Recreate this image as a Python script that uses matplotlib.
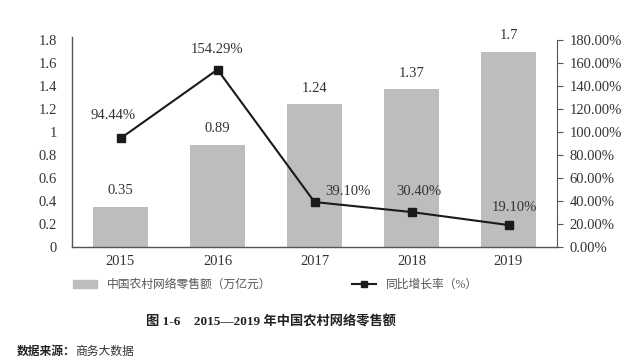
import matplotlib.pyplot as plt
from matplotlib.lines import Line2D
from matplotlib.patches import Patch

years = ['2015', '2016', '2017', '2018', '2019']
sales = [0.35, 0.89, 1.24, 1.37, 1.7]            # 万亿元
growth = [94.44, 154.29, 39.10, 30.40, 19.10]    # %
growth_labels = ['94.44%', '154.29%', '39.10%', '30.40%', '19.10%']

serif = ['Liberation Serif', 'Noto Sans CJK SC']
plt.rcParams['font.family'] = serif
txt = '#333333'

fig = plt.figure(figsize=(6.4, 3.64), dpi=100)
ax = fig.add_axes([72 / 640, 1 - 247 / 364, 485 / 640, 210 / 364])
x = range(len(years))

ax.bar(x, sales, width=0.57, color='#bdbdbf', zorder=1)
ax.set_xlim(-0.5, 4.5)
ax.set_ylim(0, 1.8 * 210 / 207)
ax.set_yticks([0, 0.2, 0.4, 0.6, 0.8, 1, 1.2, 1.4, 1.6, 1.8])
ax.set_yticklabels(['0', '0.2', '0.4', '0.6', '0.8', '1', '1.2', '1.4', '1.6', '1.8'])
ax.set_xticks(list(x))
ax.set_xticklabels(years)
ax.tick_params(axis='both', length=0, labelsize=10.5, colors=txt, pad=6)
ax.tick_params(axis='y', pad=11)
for s in ['top', 'right']:
    ax.spines[s].set_visible(False)
for s in ['left', 'bottom']:
    ax.spines[s].set_color('#555555')
    ax.spines[s].set_linewidth(1)

for i, v in enumerate(sales):
    ax.annotate(f'{v:g}', (i, v), xytext=(0, 7), textcoords='offset points',
                ha='center', va='bottom', fontsize=10.5, color=txt)

ax2 = ax.twinx()
ax2.plot(x, growth, color='#1a1a1a', lw=1.5, marker='s', ms=5.5, zorder=3)
ax2.set_ylim(0, 180 * 210 / 207)
ax2.set_yticks(range(0, 181, 20))
ax2.set_yticklabels([f'{t}.00%' for t in range(0, 181, 20)])
ax2.tick_params(axis='y', length=4, direction='out', labelsize=10.5, colors=txt, color='#555555', pad=5)
ax2.spines['right'].set_bounds(0, 180)
for s in ['top', 'left', 'bottom']:
    ax2.spines[s].set_visible(False)
ax2.spines['right'].set_color('#555555')

offsets = [(-5, 12), (0, 10), (24, 3), (5, 10), (4, 8)]
for i, (v, lab) in enumerate(zip(growth, growth_labels)):
    ax2.annotate(lab, (i, v), xytext=offsets[i], textcoords='offset points',
                 ha='center', va='bottom', fontsize=10.5, color=txt)

handles = [Patch(color='#bdbdbf'),
           Line2D([], [], color='#1a1a1a', lw=1.5, marker='s', ms=5)]
fig.legend(handles, ['中国农村网络零售额（万亿元）', '同比增长率（%）'],
           loc='center', bbox_to_anchor=(0.4305, 1 - 285 / 364), ncol=2,
           frameon=False, labelcolor='#555555',
           handlelength=2.0, handletextpad=0.8, columnspacing=6.9,
           prop={'family': serif, 'size': 8.5})

fig.text(0.424, 1 - 321 / 364, '图 1-6    2015—2019 年中国农村网络零售额',
         ha='center', va='center', fontsize=9.5, fontweight='bold', color='#222222')
fig.text(17 / 640, 1 - 352 / 364, '数据来源：', ha='left', va='center',
         fontsize=8.5, fontweight='bold', color='#222222')
fig.text(75 / 640, 1 - 352 / 364, '商务大数据', ha='left', va='center',
         fontsize=8.5, color='#333333')

fig.savefig('out.png', dpi=100, facecolor='white')
